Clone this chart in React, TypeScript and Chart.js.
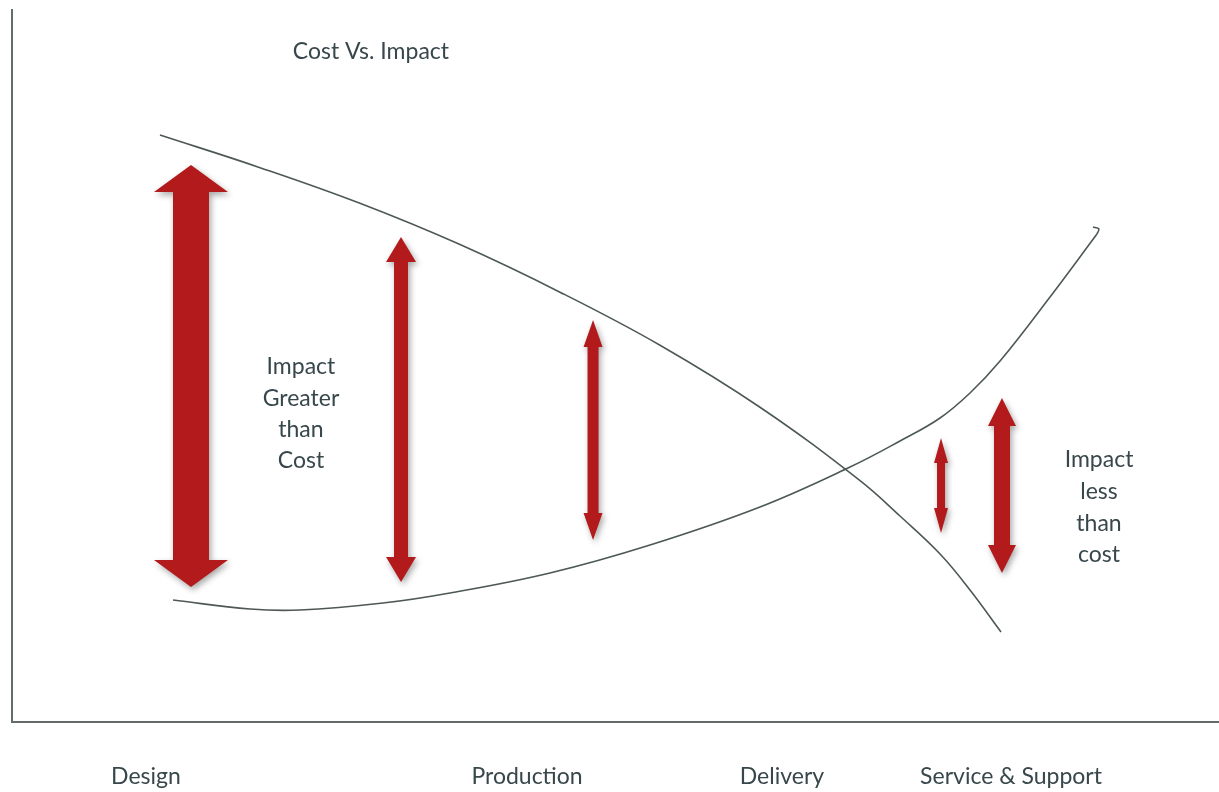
import React, { useEffect, useRef } from "react";
import { Chart, registerables } from "chart.js";

Chart.register(...registerables);

// ---- Data (x: 0..100 across the timeline, y: 0..100 value) ----
const stageLabels = ["Design", "Production", "Delivery", "Service & Support"];
const stagePositions = [11.1, 42.67, 63.79, 82.77];

const impactX = [12.26, 20.55, 28.83, 37.12, 45.4, 53.69, 61.97, 70.26, 73.57, 76.89, 79.37, 81.94];
const impactY = [82.44, 77.86, 72.85, 67.05, 60.37, 52.92, 44.21, 33.9, 28.93, 23.6, 18.54, 12.64];

const costX = [13.34, 19.72, 23.86, 30.74, 36.29, 44.57, 52.86, 61.97, 69.43, 73.57, 76.89, 79.37, 81.86, 86.0, 89.89];
const costY = [17.13, 15.87, 15.73, 16.71, 18.12, 20.93, 24.86, 30.2, 35.81, 39.47, 42.7, 46.21, 50.7, 59.69, 68.54];

// small curl at the end of the cost curve
const costHookX = [89.89, 90.05, 89.56];
const costHookY = [68.54, 69.24, 69.52];

// double-headed arrows: centre x, top value, bottom value
const arrowX = [14.83, 32.23, 48.14, 76.97, 82.02];
const arrowTop = [78.23, 68.12, 56.46, 39.89, 45.51];
const arrowBottom = [18.96, 19.66, 25.56, 26.54, 20.93];

// text annotations
const titleText = "Cost Vs. Impact";
const titlePos = { x: 29.74, y: 94.1 };
const greaterLines = ["Impact", "Greater", "than", "Cost"];
const greaterPos = { x: 23.94, y: 43.26 };
const lessLines = ["Impact", "less", "than", "cost"];
const lessPos = { x: 90.06, y: 30.13 };

// ---- Styles ----
const arrowShaft = [36, 14, 11, 8, 16];
const arrowHead = [74, 30, 19, 14, 28];
const arrowHeadLen = [27, 25, 27, 25, 28];
const ARROW_COLOR = "#b31a1c";
const LINE_COLOR = "#4d5857";
const TEXT_COLOR = "#38474b";
const FONT = "Lato, 'Open Sans', sans-serif";
const FONT_SIZE = 23;

const toPoints = (xs: number[], ys: number[]) => xs.map((x, i) => ({ x, y: ys[i] }));

const annotationPlugin = {
  id: "annotations",
  afterDatasetsDraw(chart: any) {
    const { ctx, scales } = chart;
    const xs = scales.x;
    const ys = scales.y;
    // arrows
    arrowX.forEach((v, i) => {
      const cx = xs.getPixelForValue(v);
      const top = ys.getPixelForValue(arrowTop[i]);
      const bot = ys.getPixelForValue(arrowBottom[i]);
      const sw = arrowShaft[i] / 2;
      const hw = arrowHead[i] / 2;
      const hl = arrowHeadLen[i];
      ctx.save();
      ctx.shadowColor = "rgba(0,0,0,0.35)";
      ctx.shadowBlur = 6;
      ctx.shadowOffsetX = 2;
      ctx.shadowOffsetY = 3;
      ctx.fillStyle = ARROW_COLOR;
      ctx.beginPath();
      ctx.moveTo(cx, top);
      ctx.lineTo(cx + hw, top + hl);
      ctx.lineTo(cx + sw, top + hl);
      ctx.lineTo(cx + sw, bot - hl);
      ctx.lineTo(cx + hw, bot - hl);
      ctx.lineTo(cx, bot);
      ctx.lineTo(cx - hw, bot - hl);
      ctx.lineTo(cx - sw, bot - hl);
      ctx.lineTo(cx - sw, top + hl);
      ctx.lineTo(cx - hw, top + hl);
      ctx.closePath();
      ctx.fill();
      ctx.restore();
    });
    // texts
    ctx.save();
    ctx.fillStyle = TEXT_COLOR;
    ctx.textAlign = "center";
    ctx.textBaseline = "middle";
    ctx.font = `${FONT_SIZE}px ${FONT}`;
    ctx.fillText(titleText, xs.getPixelForValue(titlePos.x), ys.getPixelForValue(titlePos.y));
    const block = (lines: string[], pos: { x: number; y: number }, lh: number) => {
      const cx = xs.getPixelForValue(pos.x);
      const cy = ys.getPixelForValue(pos.y);
      const start = cy - ((lines.length - 1) * lh) / 2;
      lines.forEach((t, i) => ctx.fillText(t, cx, start + i * lh));
    };
    block(greaterLines, greaterPos, 31.3);
    block(lessLines, lessPos, 31.7);
    ctx.restore();
  },
};

export default function App() {
  const ref = useRef<HTMLCanvasElement | null>(null);
  useEffect(() => {
    document.body.style.margin = "0";
    if (!ref.current) return;
    const lineStyle = {
      borderColor: LINE_COLOR,
      borderWidth: 1.6,
      pointRadius: 0,
      fill: false,
    };
    const chart = new Chart(ref.current, {
      type: "line",
      data: {
        datasets: [
          {
            label: "Impact",
            data: toPoints(impactX, impactY),
            tension: 0.4,
            ...lineStyle,
          },
          {
            label: "Cost",
            data: toPoints(costX, costY),
            tension: 0.4,
            ...lineStyle,
          },
          {
            label: "Cost end",
            data: toPoints(costHookX, costHookY),
            tension: 0.3,
            ...lineStyle,
          },
        ],
      },
      options: {
        animation: false,
        responsive: false,
        layout: { padding: { left: 12, top: 10, right: 0, bottom: 0 } },
        plugins: {
          legend: { display: false },
          tooltip: { enabled: false },
          title: { display: false },
        },
        scales: {
          x: {
            type: "linear",
            min: 0,
            max: 100,
            grid: { display: false, drawTicks: false },
            border: { display: true, color: "#646c6b", width: 2 },
            afterBuildTicks: (scale: any) => {
              scale.ticks = stagePositions.map((v) => ({ value: v }));
            },
            afterFit: (scale: any) => {
              scale.height = 70;
            },
            ticks: {
              autoSkip: false,
              maxRotation: 0,
              padding: 41,
              color: TEXT_COLOR,
              font: { family: FONT, size: FONT_SIZE },
              callback: (_v: any, i: number) => stageLabels[i],
            },
          },
          y: {
            type: "linear",
            min: 0,
            max: 100,
            grid: { display: false, drawTicks: false },
            border: { display: true, color: "#646c6b", width: 2 },
            ticks: { display: false },
            afterFit: (scale: any) => {
              scale.width = 0;
            },
          },
        },
      },
      plugins: [annotationPlugin],
    });
    return () => chart.destroy();
  }, []);
  return (
    <div style={{ position: "absolute", left: 0, top: 0, width: 1219, height: 792, background: "#fff" }}>
      <canvas ref={ref} width={1219} height={792} style={{ display: "block" }} />
    </div>
  );
}
